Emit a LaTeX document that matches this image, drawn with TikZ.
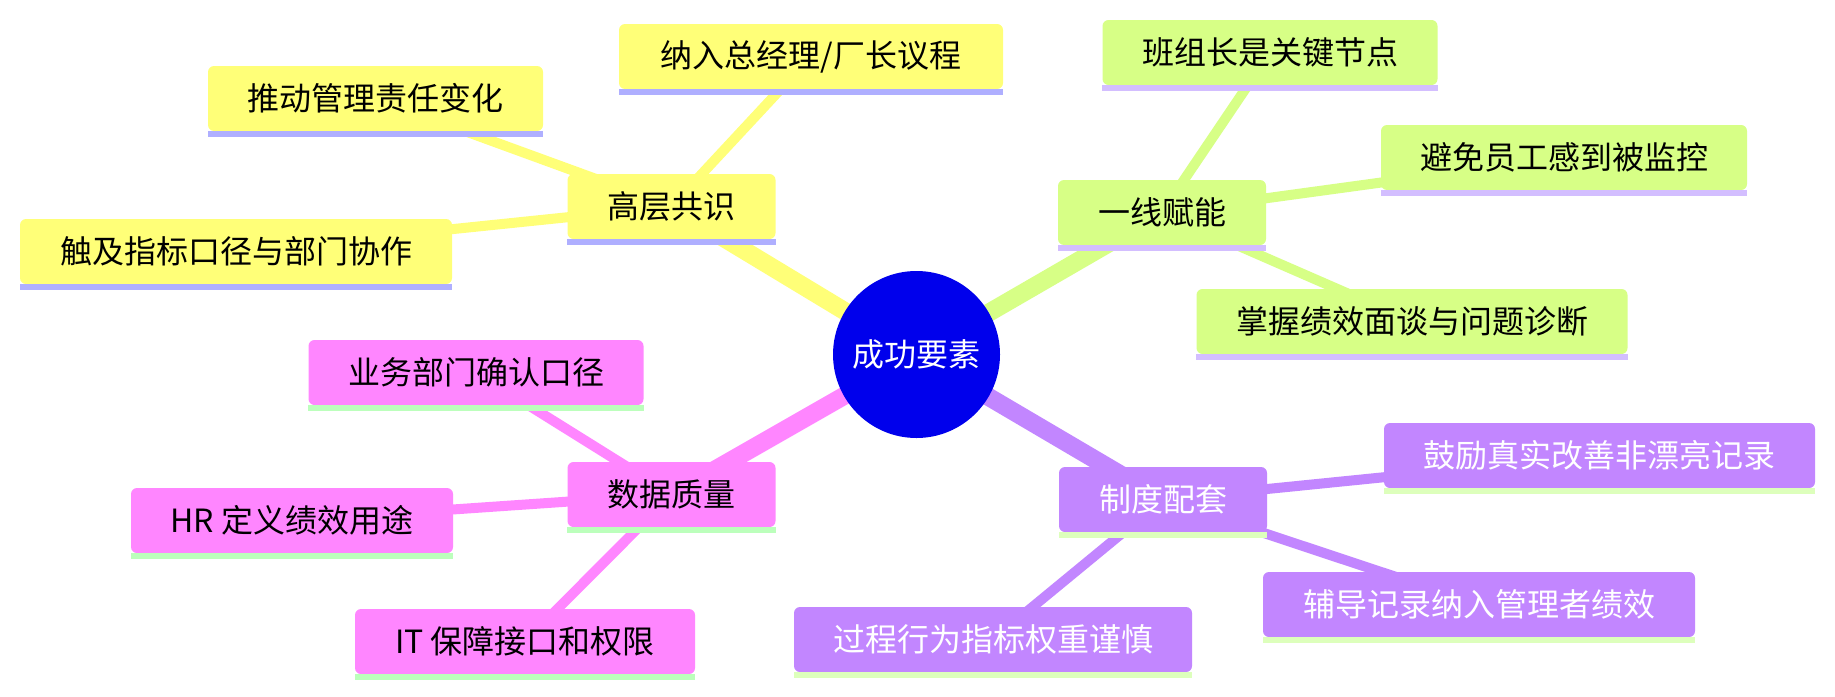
\documentclass[tikz,border=0pt]{standalone}
\usepackage{fontspec}
\setmainfont{Noto Sans CJK SC}
\usetikzlibrary{backgrounds}
\definecolor{rootc}{HTML}{0000EC}
\definecolor{cy}{HTML}{FFFF78}
\definecolor{cg}{HTML}{D7FF86}
\definecolor{cp}{HTML}{FF86FF}
\definecolor{cv}{HTML}{C286FF}
\definecolor{ly}{HTML}{AFAFFF}
\definecolor{lg}{HTML}{D3BEFF}
\definecolor{lp}{HTML}{BCFFBC}
\definecolor{lv}{HTML}{DDFFBC}
\tikzset{
  mmbox/.style={rounded corners=6pt, inner xsep=0pt, inner ysep=0pt,
    minimum height=65pt, minimum width=#1, font=\fontsize{32}{38}\selectfont},
  ybox/.style={mmbox=#1, fill=cy, text=black},
  gbox/.style={mmbox=#1, fill=cg, text=black},
  pbox/.style={mmbox=#1, fill=cp, text=black},
  vbox/.style={mmbox=#1, fill=cv, text=white},
  trunk/.style={line width=18pt},
  twig/.style={line width=10pt},
}
\newcommand\uline[2]{\fill[#2] (#1.south west) rectangle ([yshift=-6pt]#1.south east);}
\begin{document}
\begin{tikzpicture}[x=1pt,y=-1pt]
\useasboundingbox (0,0) rectangle (1835,696);

\node[circle, fill=rootc, text=white, minimum size=167pt, inner sep=0pt,
  font=\fontsize{32}{38}\selectfont] (root) at (916.5,354.5) {成功要素};

% section 1
\node[ybox=208pt] (gc) at (671.5,206.5) {高层共识};
\node[ybox=384pt] (n1) at (811,56.5) {纳入总经理/厂长议程};
\node[ybox=335pt] (n2) at (375.5,98.5) {推动管理责任变化};
\node[ybox=432pt] (n3) at (236,251.5) {触及指标口径与部门协作};
% section 2
\node[gbox=208pt] (yx) at (1162,212.5) {一线赋能};
\node[gbox=335pt] (g1) at (1270,52.5) {班组长是关键节点};
\node[gbox=366pt] (g2) at (1564,157.5) {避免员工感到被监控};
\node[gbox=431pt] (g3) at (1412,321.5) {掌握绩效面谈与问题诊断};
% section 3
\node[pbox=208pt] (sj) at (671.5,494.5) {数据质量};
\node[pbox=335pt] (p1) at (476,372.5) {业务部门确认口径};
\node[pbox=322pt] (p2) at (292,520.5) {HR 定义绩效用途};
\node[pbox=340pt] (p3) at (525,641.5) {IT 保障接口和权限};
% section 4
\node[vbox=208pt] (zd) at (1163,499.5) {制度配套};
\node[vbox=431pt] (q1) at (1599.5,455.5) {鼓励真实改善非漂亮记录};
\node[vbox=432pt] (q2) at (1479,604.5) {辅导记录纳入管理者绩效};
\node[vbox=398pt] (q3) at (993,639.5) {过程行为指标权重谨慎};

\uline{gc}{ly}\uline{n1}{ly}\uline{n2}{ly}\uline{n3}{ly}
\uline{yx}{lg}\uline{g1}{lg}\uline{g2}{lg}\uline{g3}{lg}
\uline{sj}{lp}\uline{p1}{lp}\uline{p2}{lp}\uline{p3}{lp}
\uline{zd}{lv}\uline{q1}{lv}\uline{q2}{lv}\uline{q3}{lv}

\begin{scope}[on background layer]
\fill[white] (0,0) rectangle (1835,696);
\draw[trunk, cy] (root.center) -- (gc.center);
\draw[trunk, cg] (root.center) -- (yx.center);
\draw[trunk, cp] (root.center) -- (sj.center);
\draw[trunk, cv] (root.center) -- (zd.center);
\foreach \n in {n1,n2,n3} \draw[twig, cy] (gc.center) -- (\n.center);
\foreach \n in {g1,g2,g3} \draw[twig, cg] (yx.center) -- (\n.center);
\foreach \n in {p1,p2,p3} \draw[twig, cp] (sj.center) -- (\n.center);
\foreach \n in {q1,q2,q3} \draw[twig, cv] (zd.center) -- (\n.center);
\end{scope}
\end{tikzpicture}
\end{document}
